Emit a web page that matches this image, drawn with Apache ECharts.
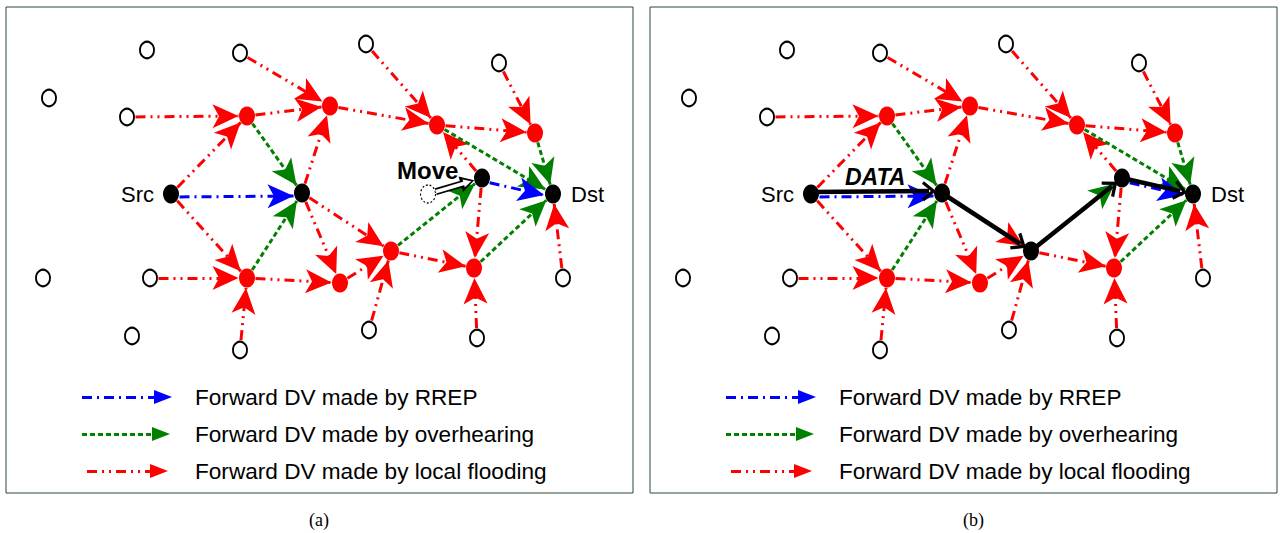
<!DOCTYPE html>
<html>
<head>
<meta charset="utf-8">
<script src="https://cdn.jsdelivr.net/npm/echarts@6/dist/echarts.min.js"></script>
<style>
  html, body { margin: 0; padding: 0; background: #fff; }
  #chart { width: 1280px; height: 533px; }
</style>
</head>
<body>
<div id="chart"></div>
<script>
// ---- network layout (x, y in the panel frame) ----
const idleNodes = [
  ['w1', 147, 50], ['w2', 240, 53], ['w3', 49, 98], ['w4', 127, 117],
  ['w5', 366, 44], ['w6', 499, 63], ['w7', 43, 278], ['w8', 150, 278],
  ['w9', 132, 336], ['w10', 240, 350], ['w11', 369, 330], ['w12', 477, 338],
  ['w13', 563, 278]
];
const relayNodes = [
  ['r1', 247, 116], ['r2', 330, 106], ['r3', 437, 125], ['r4', 535, 133],
  ['r5', 247, 278], ['r6', 340, 283], ['r7', 391, 251], ['r8', 474, 268]
];
const routeNodes = [['src', 171, 194], ['n1', 302, 193], ['n2', 482, 178], ['dst', 553, 194]];
const movedFrom = [428, 194];

// ---- forwarding relations ----
const floodEdges = [
  ['w2', 'r2'], ['w4', 'r1'], ['src', 'r1'], ['src', 'r5'], ['r1', 'r2'], ['n1', 'r2'],
  ['w5', 'r3'], ['r2', 'r3'], ['w6', 'r4'], ['r3', 'r4'], ['n2', 'r3'], ['n1', 'r7'],
  ['n1', 'r6'], ['w8', 'r5'], ['w10', 'r5'], ['r5', 'r6'], ['r6', 'r7'], ['w11', 'r7'],
  ['r7', 'r8'], ['n2', 'r8'], ['w12', 'r8'], ['w13', 'dst']
];
const overhearEdges = [['r1', 'n1'], ['r5', 'n1'], ['r3', 'dst'], ['r4', 'dst'], ['r7', 'n2'], ['r8', 'dst']];
const rrepEdges = [['src', 'n1'], ['n2', 'dst']];
const dataPath = ['src', 'n1', 'r7', 'n2', 'dst'];

// ---- texts ----
const legendLabels = ['Forward DV made by RREP', 'Forward DV made by overhearing', 'Forward DV made by local flooding'];
const endpointLabels = { src: 'Src', dst: 'Dst' };
const moveLabel = 'Move';
const dataLabel = 'DATA';
const panelCaptions = ['(a)', '(b)'];

// ---- styling ----
const FONT = '"Liberation Sans", Arial, Helvetica, sans-serif';
const SERIF = '"Liberation Serif", "Times New Roman", serif';
const RED = '#ff0000', GREEN = '#008000', BLUE = '#0000ff';
const FLOOD_DASH = [10, 5, 2, 5, 2, 5];
const OVERHEAR_DASH = [5, 3];
const RREP_DASH = [10, 5, 2, 5];
const HEAD = [18, 26];          // 'arrow' symbol: tip sits on the line end
const LEGEND_HEAD = [14, 18];   // 'triangle' symbol: centred on the line end
const CHEVRON = 'path://M50 0L100 80L87 93L50 34L13 93L0 80Z';
const CHEVRON_SIZE = [20, 14];

const panelLeft = [6, 650];
const panelShift = [0, 640];   // node frame -> page x per panel
const legendShift = [0, 4];
const legendY = [397, 434, 471];
const legendFrom = [82, 82, 87];
const legendTip = [172, 170, 168];

const pos = {};
idleNodes.concat(relayNodes, routeNodes).forEach(n => { pos[n[0]] = [n[1], n[2]]; });

function ellipseRadius(ux, uy) {
  const a = 8, b = 9.5;
  return a * b / Math.sqrt((b * ux) * (b * ux) + (a * uy) * (a * uy));
}

// segment from p to q, trimmed to node outlines; `back` pulls the end behind the tip
function segment(p, q, opt) {
  const dx = q[0] - p[0], dy = q[1] - p[1];
  const L = Math.hypot(dx, dy), ux = dx / L, uy = dy / L;
  const sh = opt.shift || 0;
  const nx = -uy * sh, ny = ux * sh;
  const s = opt.fromCenter ? 0 : ellipseRadius(ux, uy) + opt.gap;
  const tip = L - (opt.tipInset != null ? opt.tipInset : ellipseRadius(ux, uy) + opt.gap);
  const e = tip - (opt.back || 0);
  return [[p[0] + ux * s + nx, p[1] + uy * s + ny], [p[0] + ux * e + nx, p[1] + uy * e + ny]];
}

function lineSeries(p, coordsList, color, width, dash, symbol, size, z) {
  return {
    type: 'lines', coordinateSystem: 'cartesian2d', xAxisIndex: p, yAxisIndex: p,
    polyline: false, silent: true, z: z, animation: false,
    symbol: ['none', symbol], symbolSize: [0, size],
    lineStyle: { color: color, width: width, type: dash, opacity: 1, curveness: 0, cap: 'butt' },
    data: coordsList.map(c => ({ coords: c }))
  };
}

const series = [];
const graphics = [];

[0, 1].forEach(p => {
  const withData = p === 1;
  const edgeCoords = (edges, shift) =>
    edges.map(([a, b]) => segment(pos[a], pos[b], { gap: 0.5, back: 0, shift: shift }));

  series.push(lineSeries(p, edgeCoords(floodEdges, 0), RED, 3, FLOOD_DASH, 'arrow', HEAD, 2));
  series.push(lineSeries(p, edgeCoords(overhearEdges, 0), GREEN, 3, OVERHEAR_DASH, 'arrow', HEAD, 2));
  series.push(lineSeries(p, edgeCoords(rrepEdges, 3), BLUE, 3, RREP_DASH, 'arrow', HEAD, 2));

  // legend samples
  const legendStyles = [[BLUE, RREP_DASH], [GREEN, OVERHEAR_DASH], [RED, FLOOD_DASH]];
  legendStyles.forEach((st, i) => {
    const x0 = legendFrom[i] + legendShift[p];
    const x1 = legendTip[i] + legendShift[p] - LEGEND_HEAD[1] / 2;
    series.push(lineSeries(p, [[[x0, legendY[i]], [x1, legendY[i]]]], st[0], 3, st[1], 'triangle', LEGEND_HEAD, 2));
    graphics.push({
      type: 'text', left: 195 + panelShift[p] + legendShift[p], top: legendY[i] - 11.5, silent: true,
      style: { text: legendLabels[i], font: '22.6px ' + FONT, fill: '#000' }
    });
  });

  // data route (panel b)
  if (withData) {
    const segs = [];
    for (let i = 0; i < dataPath.length - 1; i++) {
      segs.push(segment(pos[dataPath[i]], pos[dataPath[i + 1]],
        { fromCenter: true, tipInset: 6, back: CHEVRON_SIZE[1] / 2, shift: i === 0 ? -2 : 0 }));
    }
    series.push(lineSeries(p, segs, '#000', 4.5, 'solid', CHEVRON, CHEVRON_SIZE, 6));
  }

  // node markers
  const blackIds = withData ? dataPath : routeNodes.map(n => n[0]);
  series.push({
    type: 'scatter', xAxisIndex: p, yAxisIndex: p, z: 5, silent: true, animation: false,
    symbol: 'circle', symbolSize: [14, 16.5],
    itemStyle: { color: '#fff', borderColor: '#000', borderWidth: 2, opacity: 1 },
    data: idleNodes.map(n => [n[1], n[2]])
  });
  series.push({
    type: 'scatter', xAxisIndex: p, yAxisIndex: p, z: 5, silent: true, animation: false,
    symbol: 'circle', symbolSize: [16, 19],
    itemStyle: { color: RED, opacity: 1 },
    data: relayNodes.filter(n => blackIds.indexOf(n[0]) < 0).map(n => [n[1], n[2]])
  });
  series.push({
    type: 'scatter', xAxisIndex: p, yAxisIndex: p, z: 5, silent: true, animation: false,
    symbol: 'circle', symbolSize: [16, 19],
    itemStyle: { color: '#000', opacity: 1 },
    data: blackIds.map(id => {
      const item = { value: pos[id] };
      if (endpointLabels[id]) {
        item.label = {
          show: true, formatter: endpointLabels[id],
          position: id === 'src' ? 'left' : 'right', distance: id === 'src' ? 9 : 10,
          color: '#000', fontFamily: FONT, fontSize: 22
        };
      }
      return item;
    })
  });

  // node displacement (panel a)
  if (!withData) {
    series.push({
      type: 'scatter', xAxisIndex: p, yAxisIndex: p, z: 5, silent: true, animation: false,
      symbol: 'circle', symbolSize: [15, 18],
      itemStyle: { color: '#fff', borderColor: '#000', borderWidth: 1.2, borderType: [2, 2], opacity: 1 },
      data: [movedFrom]
    });
    const mv = segment(movedFrom, pos.n2, { gap: 0, back: 7 });
    series.push(lineSeries(p, [mv], '#000', 7, 'solid', 'triangle', [16, 14], 6));
    series.push(lineSeries(p, [mv], '#fff', 3.5, 'solid', 'triangle', [8, 8], 7));
    graphics.push({
      type: 'text', left: 397, top: 158, silent: true,
      style: { text: moveLabel, font: 'bold 24px ' + FONT, fill: '#000' }
    });
  } else {
    graphics.push({
      type: 'text', left: 845, top: 165, silent: true,
      style: { text: dataLabel, font: 'italic bold 23px ' + FONT, fill: '#000' }
    });
  }

  graphics.push({
    type: 'text', left: p === 0 ? 309 : 963, top: 511, silent: true,
    style: { text: panelCaptions[p], font: '18px ' + SERIF, fill: '#000' }
  });
});

const chart = echarts.init(document.getElementById('chart'), null, { renderer: 'svg', width: 1280, height: 533 });
chart.setOption({
  animation: false,
  backgroundColor: '#fff',
  grid: [
    { left: panelLeft[0], top: 7, width: 627, height: 486, show: true, borderColor: '#284a38', borderWidth: 1, backgroundColor: 'transparent' },
    { left: panelLeft[1], top: 7, width: 627, height: 486, show: true, borderColor: '#284a38', borderWidth: 1, backgroundColor: 'transparent' }
  ],
  xAxis: [
    { type: 'value', gridIndex: 0, min: 6, max: 633, show: false },
    { type: 'value', gridIndex: 1, min: 10, max: 637, show: false }
  ],
  yAxis: [
    { type: 'value', gridIndex: 0, min: 7, max: 493, inverse: true, show: false },
    { type: 'value', gridIndex: 1, min: 7, max: 493, inverse: true, show: false }
  ],
  series: series,
  graphic: graphics
});
</script>
</body>
</html>
